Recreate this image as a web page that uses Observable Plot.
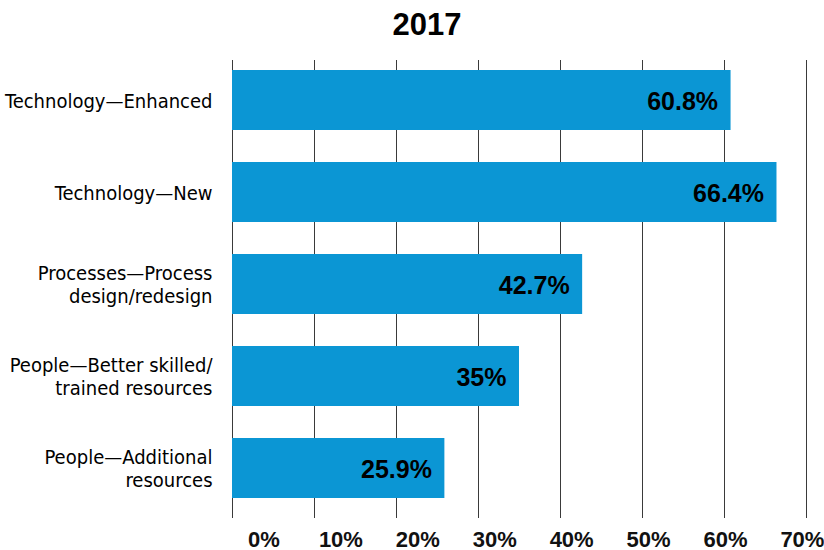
<!DOCTYPE html>
<html>
<head>
<meta charset="utf-8">
<script src="https://cdn.jsdelivr.net/npm/d3@7"></script>
<script src="https://cdn.jsdelivr.net/npm/@observablehq/plot@0.6"></script>
<style>
  html, body { margin: 0; padding: 0; background: #fff; }
  #wrap { position: relative; width: 824px; height: 550px; }
  #title {
    position: absolute; left: 0; top: 0; z-index: 2;
    font-family: "Liberation Sans", Arial, sans-serif;
    font-weight: bold; font-size: 31px; line-height: 50px; height: 50px;
    text-align: center; padding-left: 30px; color: #000; width: 794px;
  }
  #chart g[aria-label="y-axis tick label"] { font-stretch: condensed; }
</style>
</head>
<body>
<div id="wrap">
<div id="title">2017</div>
<div id="chart"></div>
</div>
<script>
// ---- data ----
const categories = [
  "Technology—Enhanced",
  "Technology—New",
  "Processes—Process design/redesign",
  "People—Better skilled/ trained resources",
  "People—Additional resources"
];
const categoryLabels = [
  "Technology—Enhanced",
  "Technology—New",
  "Processes—Process\ndesign/redesign",
  "People—Better skilled/\ntrained resources",
  "People—Additional\nresources"
];
const values = [60.8, 66.4, 42.7, 35, 25.9];
const xTicks = [0, 10, 20, 30, 40, 50, 60, 70];
const xTickLabels = ["0%", "10%", "20%", "30%", "40%", "50%", "60%", "70%"];

const data = categories.map((c, i) => ({category: c, value: values[i]}));
const labelOf = new Map(categories.map((c, i) => [c, categoryLabels[i]]));
const tickText = new Map(xTicks.map((t, i) => [t, xTickLabels[i]]));
// In the original, the percentage labels are spread evenly from about 3.8% to 69.5%
const labelPos = d => 3.84 + d * (69.5 - 3.84) / 70;

const condensed = "'DejaVu Sans', sans-serif";
const sans = "'Liberation Sans', Arial, sans-serif";

const chart = Plot.plot({
  width: 824,
  height: 550,
  marginLeft: 232,
  marginRight: 18,
  marginTop: 54,
  marginBottom: 36,
  style: {background: "#fff", overflow: "visible"},
  x: {domain: [0, 70], axis: null},
  y: {domain: categories, paddingInner: 0.348, paddingOuter: 0.174, axis: null},
  marks: [
    Plot.ruleX(xTicks, {x: d => d, stroke: "#3a3a3a", strokeWidth: 1, insetTop: 6, insetBottom: -4}),
    Plot.barX(data, {x: "value", y: "category", fill: "#0B96D4"}),
    Plot.text(data, {
      x: "value", y: "category", text: d => `${d.value}%`,
      textAnchor: "end", dx: -13, dy: 1,
      fontFamily: sans, fontWeight: "bold", fontSize: 25, fill: "#000"
    }),
    Plot.axisY({
      tickSize: 0, tickPadding: 20, tickFormat: d => labelOf.get(d),
      fontFamily: condensed, fontSize: 20, lineHeight: 1.12, fill: "#000", label: null
    }),
    Plot.text(xTicks, {
      x: labelPos, text: d => tickText.get(d),
      frameAnchor: "bottom", lineAnchor: "bottom", dy: 32,
      fontFamily: sans, fontWeight: "bold", fontSize: 22, fill: "#111"
    })
  ]
});
document.getElementById("chart").appendChild(chart);
</script>
</body>
</html>
